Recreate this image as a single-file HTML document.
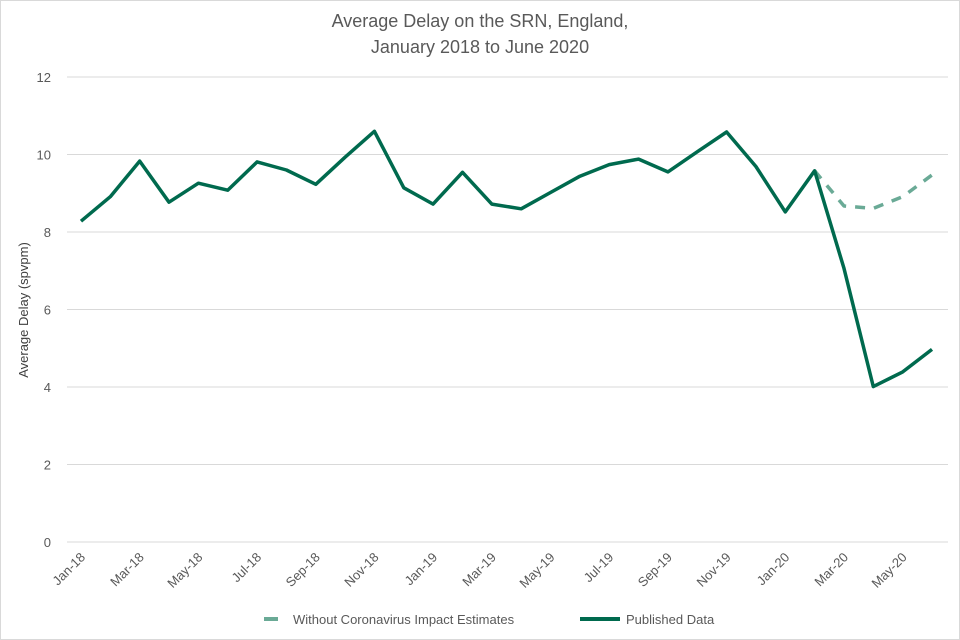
<!DOCTYPE html>
<html><head><meta charset="utf-8"><style>
body{margin:0;background:#fff;}
svg{display:block;font-family:"Liberation Sans",sans-serif;}
</style></head><body>
<svg id="chart" width="960" height="640" viewBox="0 0 960 640">
<rect x="0.5" y="0.5" width="959" height="639" fill="#fff" stroke="#d9d9d9"/>
<text x="480" y="27" text-anchor="middle" font-size="18" fill="#595959">Average Delay on the SRN, England,</text>
<text x="480" y="53" text-anchor="middle" font-size="18" fill="#595959">January 2018 to June 2020</text>
<text transform="translate(28,310) rotate(-90)" text-anchor="middle" font-size="13" fill="#404040">Average Delay (spvpm)</text>
<g id="grid"></g><g id="ylab"></g><g id="xlab"></g><g id="series"></g>
<g>
<line x1="264" y1="619" x2="278" y2="619" stroke="#6aaa96" stroke-width="4"/>
<text x="293" y="624" font-size="13" fill="#595959">Without Coronavirus Impact Estimates</text>
<line x1="580" y1="619" x2="620" y2="619" stroke="#006a4e" stroke-width="4"/>
<text x="626" y="624" font-size="13" fill="#595959">Published Data</text>
</g>
</svg>
<script>
const months = ["Jan-18","Feb-18","Mar-18","Apr-18","May-18","Jun-18","Jul-18","Aug-18","Sep-18","Oct-18","Nov-18","Dec-18","Jan-19","Feb-19","Mar-19","Apr-19","May-19","Jun-19","Jul-19","Aug-19","Sep-19","Oct-19","Nov-19","Dec-19","Jan-20","Feb-20","Mar-20","Apr-20","May-20","Jun-20"];
const published = [8.28,8.91,9.83,8.77,9.26,9.08,9.81,9.6,9.23,9.93,10.6,9.14,8.72,9.54,8.72,8.6,9.02,9.44,9.74,9.88,9.55,10.07,10.58,9.69,8.52,9.58,7.06,4.01,4.39,4.97];
const estimates = [null,null,null,null,null,null,null,null,null,null,null,null,null,null,null,null,null,null,null,null,null,null,null,null,null,9.58,8.67,8.61,8.91,9.47];
const yTicks = [0,2,4,6,8,10,12];
const NS="http://www.w3.org/2000/svg";
const X0=81, X1=932, Y0=542, YMAX=12, YTOP=77;
const x = i => X0 + i*(X1-X0)/(months.length-1);
const y = v => Y0 - v*(Y0-YTOP)/YMAX;
function mk(tag, attrs, parent){const e=document.createElementNS(NS,tag);for(const k in attrs)e.setAttribute(k,attrs[k]);document.getElementById(parent).appendChild(e);return e;}
yTicks.forEach(t=>{
  const l=mk('line',{x1:67,x2:948,y1:y(t),y2:y(t),stroke:'#d9d9d9','stroke-width':1},'grid');
  
  
  const tx=mk('text',{x:51,y:y(t)+5,'text-anchor':'end','font-size':13,fill:'#595959'},'ylab');
  tx.textContent=t;
  
  
});
months.forEach((m,i)=>{
  if(i%2) return;
  const tx=mk('text',{transform:`translate(${x(i)+5},${558}) rotate(-45)`,'text-anchor':'end','font-size':13,fill:'#595959'},'xlab');
  tx.textContent=m;
  
  
});
function pathFor(arr){let d='';let started=false;arr.forEach((v,i)=>{if(v==null)return;d+=(started?'L':'M')+x(i).toFixed(1)+','+y(v).toFixed(1);started=true;});return d;}
const est=mk('path',{d:pathFor(estimates),fill:'none',stroke:'#6aaa96','stroke-width':3.5,'stroke-dasharray':'10 9','stroke-linejoin':'round'},'series');


const pub=mk('path',{d:pathFor(published),fill:'none',stroke:'#006a4e','stroke-width':3.5,'stroke-linejoin':'round'},'series');


</script>
</body></html>
